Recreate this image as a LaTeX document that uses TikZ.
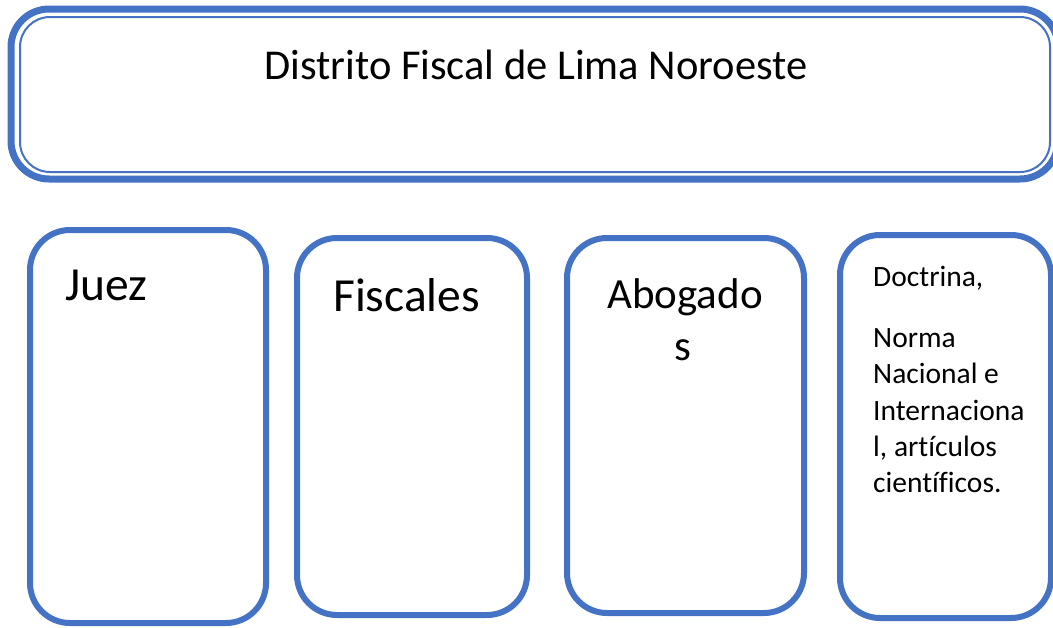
\documentclass[tikz,border=0pt]{standalone}
\usepackage{fontspec}
\setmainfont{Carlito}[Ligatures={NoCommon}]
\definecolor{boxblue}{HTML}{4472C4}
\begin{document}
\begin{tikzpicture}[x=1pt,y=-1pt,
  outerframe/.style={draw=boxblue,line width=7pt,rounded corners=38pt},
  innerframe/.style={draw=boxblue,line width=2pt,rounded corners=30pt},
  colbox/.style={draw=boxblue,line width=6pt,rounded corners=40pt},
  bigtext/.style={inner sep=0pt,anchor=base west,font=\fontsize{47.5}{56}\selectfont},
  smalltext/.style={inner sep=0pt,anchor=base west,font=\fontsize{29.5}{36}\selectfont}]
\useasboundingbox (0,0) rectangle (1053,627);
\begin{scope}
\clip (0,0) rectangle (1053,627);
% top frame
\draw[outerframe] (11,9) rectangle (1058,179);
\draw[innerframe] (20,17) rectangle (1050,172);
\node[inner sep=0pt,anchor=base,font=\fontsize{42.5}{50}\selectfont] (title) at (536,79) {Distrito Fiscal de Lima Noroeste};
% columns
\draw[colbox] (30,230) rectangle (266,623);
\draw[colbox] (297,238) rectangle (527,615);
\draw[colbox] (567,238) rectangle (804,613);
\draw[colbox] (840,235) rectangle (1051,618);
\node[bigtext] (juez) at (65,300) {Juez};
\node[bigtext] (fiscales) at (333,311) {Fiscales};
\node[inner sep=0pt,anchor=base,font=\fontsize{43}{52}\selectfont] (abog1) at (685,308) {Abogado};
\node[inner sep=0pt,anchor=base,font=\fontsize{43}{52}\selectfont] (abog2) at (683,360) {s};
\node[smalltext] (doc) at (873,286) {Doctrina,};
\node[smalltext] (l1) at (873,347) {Norma};
\node[smalltext] (l2) at (873,383) {Nacional e};
\node[smalltext] (l3) at (873,420) {Internaciona};
\node[smalltext] (l4) at (873,456) {l, artículos};
\node[smalltext] (l5) at (873,492) {científicos.};
\end{scope}
\end{tikzpicture}
\end{document}
